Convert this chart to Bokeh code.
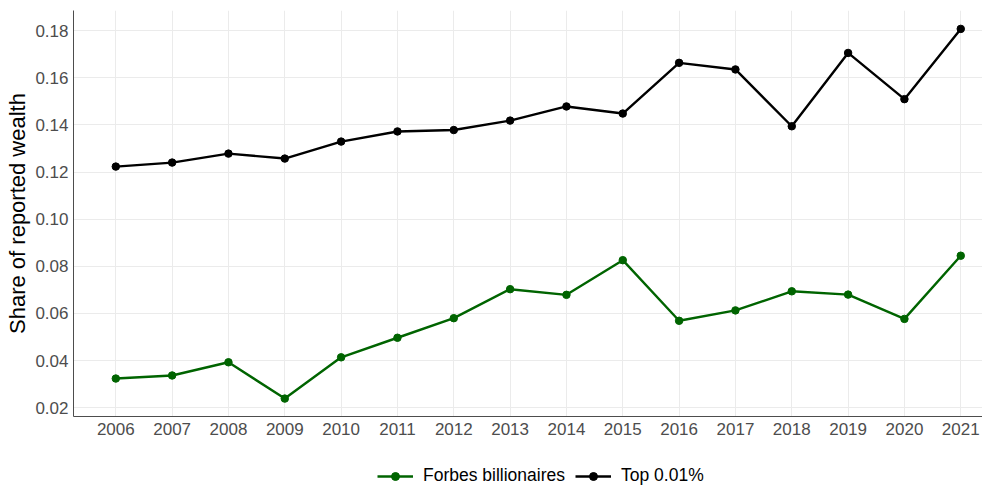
from bokeh.plotting import figure
from bokeh.layouts import column
from bokeh.models import (Range1d, FixedTicker, NumeralTickFormatter, Legend, LegendItem)
from bokeh.embed import file_html
from bokeh.resources import INLINE

years = [2006, 2007, 2008, 2009, 2010, 2011, 2012, 2013, 2014, 2015,
         2016, 2017, 2018, 2019, 2020, 2021]
forbes = [0.0324, 0.0337, 0.0393, 0.0239, 0.0414, 0.0497, 0.0580, 0.0703,
          0.0679, 0.0826, 0.0569, 0.0613, 0.0694, 0.0680, 0.0577, 0.0845]
top001 = [0.1223, 0.1240, 0.1278, 0.1257, 0.1329, 0.1372, 0.1378, 0.1418,
          0.1478, 0.1448, 0.1663, 0.1635, 0.1394, 0.1705, 0.1509, 0.1807]
y_ticks = [0.02, 0.04, 0.06, 0.08, 0.10, 0.12, 0.14, 0.16, 0.18]
series_names = ["Forbes billionaires", "Top 0.01%"]
series_colors = ["#006400", "#000000"]
y_title = "Share of reported wealth"

FONT = "Liberation Sans"

p = figure(width=982, height=442, output_backend="svg", toolbar_location=None,
           x_range=Range1d(2005.249, 2021.386), y_range=Range1d(0.0163, 0.1885),
           min_border_left=73, min_border_right=0, min_border_top=10,
           min_border_bottom=26)
p.outline_line_color = None
p.background_fill_color = "white"
p.border_fill_color = "white"

for ax in (p.xaxis[0], p.yaxis[0]):
    ax.axis_line_color = "#4d4d4d"
    ax.axis_line_width = 1
    ax.major_tick_line_color = None
    ax.minor_tick_line_color = None
    ax.major_tick_out = 0
    ax.major_tick_in = 0
    ax.minor_tick_out = 0
    ax.major_label_text_font = FONT
    ax.major_label_text_font_size = "17px"
    ax.major_label_text_color = "#4d4d4d"

p.xaxis.ticker = FixedTicker(ticks=years)
p.xaxis.formatter = NumeralTickFormatter(format="0")
p.xaxis.major_label_standoff = 6
p.yaxis.ticker = FixedTicker(ticks=y_ticks)
p.yaxis.formatter = NumeralTickFormatter(format="0.00")
p.yaxis.major_label_standoff = 5
p.yaxis.axis_label = y_title
p.yaxis.axis_label_text_font = FONT
p.yaxis.axis_label_text_font_size = "22px"
p.yaxis.axis_label_text_font_style = "normal"
p.yaxis.axis_label_text_color = "#000000"
p.yaxis.axis_label_standoff = 2

p.xgrid.ticker = FixedTicker(ticks=years)
p.ygrid.ticker = FixedTicker(ticks=y_ticks)
p.grid.grid_line_color = "#ebebeb"
p.grid.grid_line_width = 1

# legend strip below the chart (its renderers lie outside its view range,
# so only the legend glyphs show)
pl = figure(width=982, height=44, output_backend="svg", toolbar_location=None,
            x_axis_location=None, y_axis_location=None,
            x_range=Range1d(0, 1), y_range=Range1d(0, 1),
            min_border_left=73, min_border_right=0, min_border_top=0,
            min_border_bottom=0)
pl.outline_line_color = None
pl.grid.visible = False

items = []
for vals, name, col in zip([forbes, top001], series_names, series_colors):
    p.line(years, vals, line_color=col, line_width=2.4)
    p.scatter(years, vals, size=7.5, fill_color=col, line_color=col)
    lr = pl.line(years, vals, line_color=col, line_width=2.4)
    sr = pl.scatter(years, vals, size=7.5, fill_color=col, line_color=col)
    items.append(LegendItem(label=name, renderers=[lr, sr]))

legend = Legend(items=items, orientation="horizontal", location=(304, 0),
                padding=0, margin=0, spacing=10, glyph_width=36, glyph_height=20,
                label_standoff=10, label_text_font=FONT, label_text_font_size="17.5px",
                label_text_color="#000000", background_fill_alpha=0,
                border_line_color=None)
pl.add_layout(legend, "center")

open("out.html", "w").write(file_html(column(p, pl, spacing=0), INLINE))
